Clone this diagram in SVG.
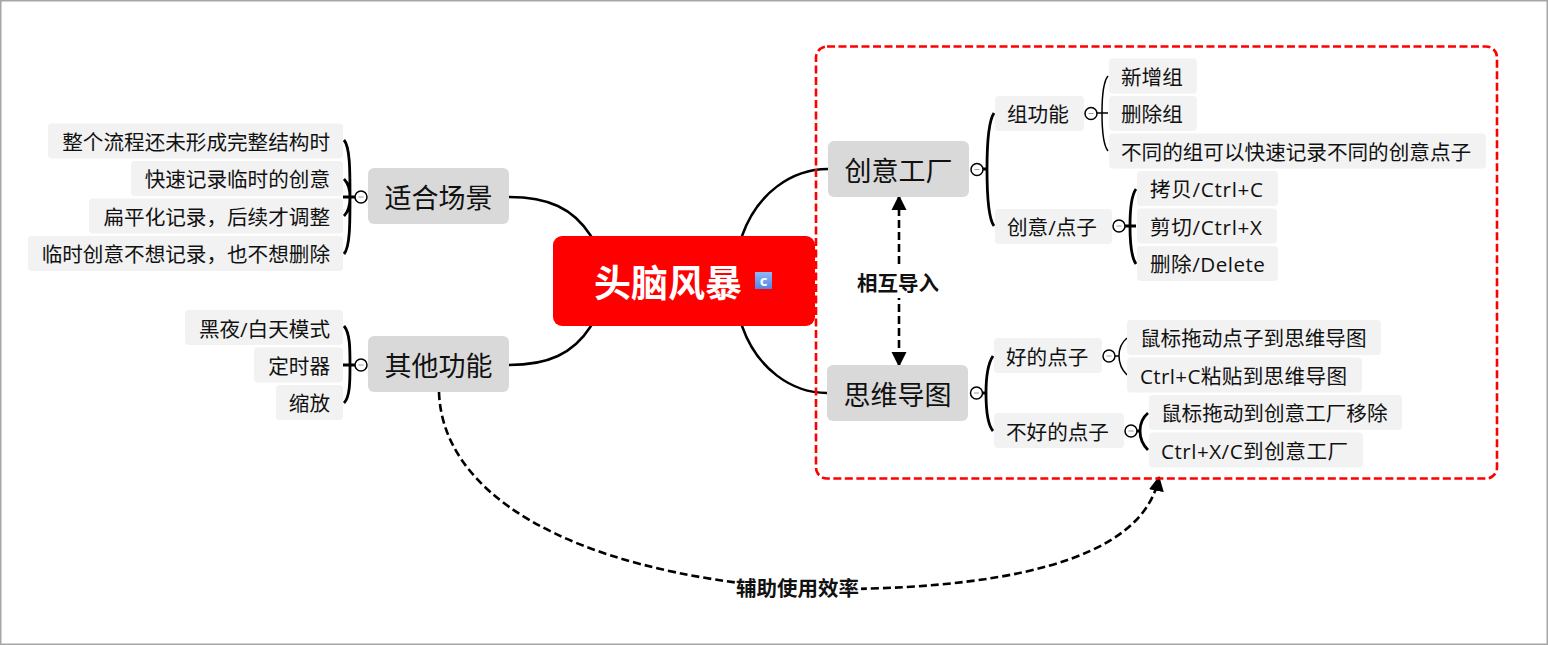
<svg xmlns="http://www.w3.org/2000/svg" width="1548" height="645" viewBox="0 0 1548 645">
<style>
text{font-family:"Open Sans","Noto Sans CJK SC","Liberation Sans",sans-serif;fill:#111;dominant-baseline:central}
.leaf rect{fill:#f2f2f2}
.leaf text{font-size:20.6px;text-anchor:end}
.mid rect{fill:#f2f2f2}
.mid text{font-size:20.6px;text-anchor:start}
.main rect{fill:#d9d9d9}
.main text{font-size:27px;text-anchor:middle}
.c{fill:none;stroke:#000;stroke-width:2.5;stroke-linecap:round}
.d{fill:none;stroke:#000;stroke-width:2.6;stroke-dasharray:8 4}
.t{fill:none;stroke:#000;stroke-width:2.8}
.n{fill:none;stroke:#000;stroke-width:1.5}
.f circle{fill:#fff;stroke:#000;stroke-width:1.5}
.f path{stroke:#99a;stroke-width:1;fill:none}
.lb{font-size:20.5px;font-weight:700;text-anchor:middle}
</style>
<defs>
<marker id="arr" markerUnits="userSpaceOnUse" markerWidth="16" markerHeight="16" refX="14" refY="8" orient="auto-start-reverse"><path d="M0,0.500L15,8L0,15.500Z" fill="#000"/></marker>
<linearGradient id="ic" x1="0" y1="0" x2="0" y2="1"><stop offset="0" stop-color="#8fb8f5"/><stop offset="1" stop-color="#4f86e6"/></linearGradient>
</defs>
<rect x="0.75" y="0.75" width="1546.5" height="643.5" fill="#fff" stroke="#a6a6a6" stroke-width="1.5"/>
<g id="connectors">
<path class="c" d="M509,197C548,197 573,208 591,236"/>
<path class="c" d="M509,365C548,365 573,354 591,326"/>
<path class="c" d="M828,169C792,169 757,193 742,236"/>
<path class="c" d="M827,393C792,393 757,369 742,326"/>
<path class="t" d="M344,140C350,147 350,170 350,197C350,224 350,247 344,254M344,179C348,183 350,190 350,197C350,204 348,212 344,216M343,197H356"/>
<path class="t" d="M344,326C350,333 350,348 350,365C350,382 350,397 344,403M343,365H356"/>
<path class="t" d="M994,113C988,122 987,145 987,169C987,195 988,218 994,226M982,169H987"/>
<path class="t" d="M993,356C987,365 986,378 986,393C986,408 987,424 993,431M982,393H986"/>
<path class="n" d="M1108,76C1103,82 1102,95 1102,113C1102,131 1103,145 1108,151M1096,113H1108"/>
<path class="t" d="M1136,189C1131,196 1130,210 1130,226C1130,242 1131,257 1136,264M1124,226H1136"/>
<path class="n" d="M1127,338C1121,343 1119,350 1119,356C1119,362 1121,369 1127,375M1114,356H1119"/>
<path class="t" d="M1148,413C1142,418 1140,425 1140,431C1140,437 1142,444 1148,450M1136,431H1140"/>
<path class="d" d="M899,196V366" marker-start="url(#arr)" marker-end="url(#arr)"/>
<path class="d" d="M439,392C442,490 560,571 798,589C1000,592 1143,562 1159,477" marker-end="url(#arr)"/>
</g>
<g id="node-center">
<rect x="553" y="236" width="262" height="90" rx="9" fill="#f00"/>
<text x="668" y="282.500" font-size="37" font-weight="700" text-anchor="middle" style="fill:#fff">头脑风暴</text>
<rect x="755" y="272" width="17" height="17" fill="url(#ic)"/>
<text x="763.500" y="279.500" font-size="15" font-weight="700" text-anchor="middle" style="fill:#fff">c</text>
</g>
<g id="node-changjing" class="main"><rect x="368" y="168" width="141" height="56" rx="6"/><text x="438.500" y="197">适合场景</text></g>
<g id="node-qita" class="main"><rect x="368" y="336" width="141" height="56" rx="6"/><text x="438.500" y="365">其他功能</text></g>
<g id="node-chuangyi" class="main"><rect x="828" y="141" width="141" height="56" rx="6"/><text x="898.500" y="170">创意工厂</text></g>
<g id="node-siwei" class="main"><rect x="827" y="365" width="141" height="56" rx="6"/><text x="897.500" y="394">思维导图</text></g>
<g id="leaf-1" class="leaf"><rect x="48" y="123.500" width="295" height="35" rx="4"/><text x="330" y="141.500">整个流程还未形成完整结构时</text></g>
<g id="leaf-2" class="leaf"><rect x="131" y="161" width="212" height="35" rx="4"/><text x="330" y="179">快速记录临时的创意</text></g>
<g id="leaf-3" class="leaf"><rect x="89" y="198.500" width="254" height="35" rx="4"/><text x="330" y="216.500">扁平化记录，后续才调整</text></g>
<g id="leaf-4" class="leaf"><rect x="28" y="236" width="315" height="35" rx="4"/><text x="330" y="254">临时创意不想记录，也不想删除</text></g>
<g id="leaf-5" class="leaf"><rect x="185" y="310" width="158" height="35" rx="4"/><text x="330" y="328.500">黑夜/白天模式</text></g>
<g id="leaf-6" class="leaf"><rect x="254" y="347.500" width="89" height="35" rx="4"/><text x="330" y="365.500">定时器</text></g>
<g id="leaf-7" class="leaf"><rect x="276" y="385" width="67" height="35" rx="4"/><text x="330" y="403">缩放</text></g>
<g id="mid-1" class="mid"><rect x="995" y="96" width="89" height="35" rx="4"/><text x="1007" y="114">组功能</text></g>
<g id="mid-2" class="mid"><rect x="995" y="209" width="117" height="35" rx="4"/><text x="1007" y="226.500">创意/点子</text></g>
<g id="mid-3" class="mid"><rect x="994" y="338" width="108" height="35" rx="4"/><text x="1006" y="356.500">好的点子</text></g>
<g id="mid-4" class="mid"><rect x="994" y="413" width="130" height="35" rx="4"/><text x="1006" y="431.500">不好的点子</text></g>
<g id="mid-5" class="mid"><rect x="1109" y="58.500" width="88" height="35" rx="4"/><text x="1121" y="76.500">新增组</text></g>
<g id="mid-6" class="mid"><rect x="1109" y="96" width="88" height="35" rx="4"/><text x="1121" y="114">删除组</text></g>
<g id="mid-7" class="mid"><rect x="1109" y="133.500" width="377" height="35" rx="4"/><text x="1121" y="151.500">不同的组可以快速记录不同的创意点子</text></g>
<g id="mid-8" class="mid"><rect x="1137" y="171" width="141" height="35" rx="4"/><text x="1150" y="189" letter-spacing="0.7">拷贝/Ctrl+C</text></g>
<g id="mid-9" class="mid"><rect x="1137" y="208.500" width="140" height="35" rx="4"/><text x="1150" y="226.500" letter-spacing="0.7">剪切/Ctrl+X</text></g>
<g id="mid-10" class="mid"><rect x="1137" y="246" width="141" height="35" rx="4"/><text x="1150" y="264" letter-spacing="0.5">删除/Delete</text></g>
<g id="mid-11" class="mid"><rect x="1127" y="320" width="254" height="35" rx="4"/><text x="1140" y="338">鼠标拖动点子到思维导图</text></g>
<g id="mid-12" class="mid"><rect x="1127" y="357.500" width="235" height="35" rx="4"/><text x="1140" y="375.500" letter-spacing="0.35">Ctrl+C粘贴到思维导图</text></g>
<g id="mid-13" class="mid"><rect x="1149" y="395" width="253" height="35" rx="4"/><text x="1161" y="413">鼠标拖动到创意工厂移除</text></g>
<g id="mid-14" class="mid"><rect x="1149" y="432.500" width="214" height="35" rx="4"/><text x="1161" y="450.500" letter-spacing="0.5">Ctrl+X/C到创意工厂</text></g>
<g id="folds" class="f">
<g id="fold-1"><circle cx="361" cy="197" r="6"/><path d="M358.500,197H363.500"/></g>
<g id="fold-2"><circle cx="361" cy="365" r="6"/><path d="M358.500,365H363.500"/></g>
<g id="fold-3"><circle cx="977" cy="169.500" r="6"/><path d="M974.500,169.500H979.500"/></g>
<g id="fold-4"><circle cx="976.500" cy="393" r="6"/><path d="M974,393H979"/></g>
<g id="fold-5"><circle cx="1091" cy="113.500" r="6"/><path d="M1088.500,113.500H1093.500"/></g>
<g id="fold-6"><circle cx="1119" cy="226" r="6"/><path d="M1116.500,226H1121.500"/></g>
<g id="fold-7"><circle cx="1109" cy="356" r="6"/><path d="M1106.500,356H1111.500"/></g>
<g id="fold-8"><circle cx="1131" cy="431" r="6"/><path d="M1128.500,431H1133.500"/></g>
</g>
<rect id="boundary" x="816" y="46.500" width="681" height="432" rx="11" fill="none" stroke="#f00" stroke-width="2.6" stroke-dasharray="8 3.500"/>
<g id="labels">
<rect x="852" y="268" width="92" height="30" fill="#fff"/>
<text class="lb" x="898" y="283">相互导入</text>
<rect x="735" y="572" width="126" height="32" fill="#fff"/>
<text class="lb" x="797.500" y="588">辅助使用效率</text>
</g>
</svg>
